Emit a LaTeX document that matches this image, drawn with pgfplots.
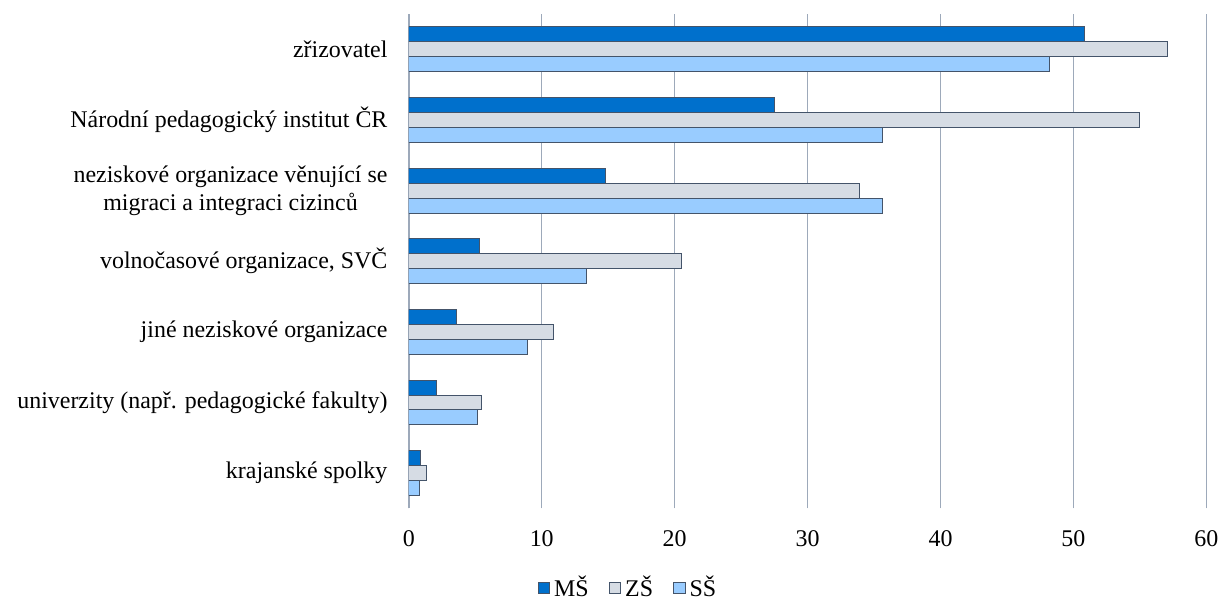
\documentclass[border=0pt]{standalone}
\usepackage{fontspec}
\setmainfont{Liberation Serif}
\usepackage{pgfplots}
\pgfplotsset{compat=1.18}
\definecolor{cMS}{HTML}{0070CC}
\definecolor{cZS}{HTML}{D6DCE4}
\definecolor{cSS}{HTML}{99CCFF}
\definecolor{cB}{HTML}{44546A}
\definecolor{gridc}{HTML}{9DA9BA}
\begin{document}
\begin{tikzpicture}[font=\fontsize{12}{14}\selectfont]
\path (-205pt,-44.5pt) rectangle (407.5pt,255pt);
\begin{axis}[
  at={(0,0)}, anchor=south west,
  width=400pt, height=248pt, scale only axis,
  xbar, bar width=7.5pt,
  xmin=0, xmax=60, xtick={0,10,...,60},
  ymin=-0.5, ymax=6.5, ytick={0,...,6},
  yticklabels={krajanské spolky, univerzity (např. pedagogické fakulty), jiné neziskové organizace, {volnočasové organizace, SVČ}, {neziskové organizace věnující se\\migraci a integraci cizinců}, Národní pedagogický institut ČR, zřizovatel},
  /pgf/number format/assume math mode=true,
  axis y line*=left, axis x line*=bottom,
  x axis line style={draw=none},
  y axis line style={draw=gridc, line width=0.75pt},
  xmajorgrids, grid style={draw=gridc, line width=0.75pt},
  major tick length=0pt, tick style={draw=none},
  x tick label style={anchor=center, yshift=-15pt},
  y tick label style={anchor=east, align=center, inner sep=0pt, xshift=-10.5pt},
  legend columns=3,
  legend style={draw=none, at={(0.276,-0.161)}, anchor=center, font=\fontsize{12}{14}\selectfont,
    /tikz/every even column/.append style={column sep=8pt}},
  legend image code/.code={\draw[#1, line width=0.5pt] (0pt,-2.9pt) rectangle (5.8pt,2.9pt);},
]
\addplot[xbar, fill=cMS, draw=cB, line width=0.5pt, bar shift=7.5pt] coordinates {(50.8,6) (27.5,5) (14.8,4) (5.3,3) (3.6,2) (2.1,1) (0.9,0)};
\addplot[xbar, fill=cZS, draw=cB, line width=0.5pt, bar shift=0pt] coordinates {(57.1,6) (55.0,5) (33.9,4) (20.5,3) (10.9,2) (5.5,1) (1.3,0)};
\addplot[xbar, fill=cSS, draw=cB, line width=0.5pt, bar shift=-7.5pt] coordinates {(48.2,6) (35.6,5) (35.6,4) (13.4,3) (8.9,2) (5.2,1) (0.8,0)};
\legend{MŠ, ZŠ, SŠ}
\end{axis}
\end{tikzpicture}
\end{document}
